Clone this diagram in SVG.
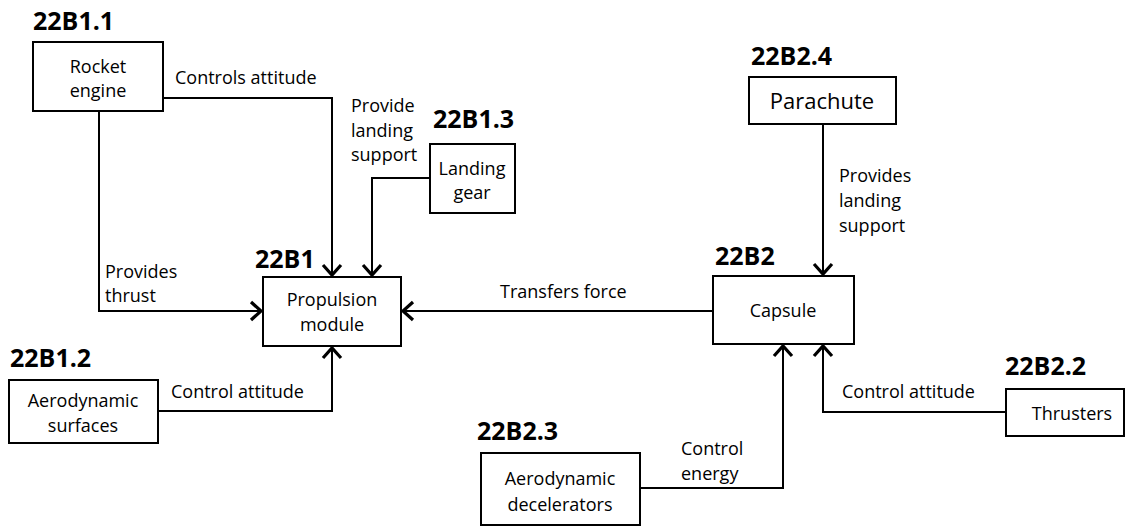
<svg xmlns="http://www.w3.org/2000/svg" width="1128" height="527" viewBox="0 0 1128 527">
<style>
.box{fill:#fff;stroke:#000;stroke-width:2}
.t{font-family:"Open Sans","Liberation Sans",sans-serif;font-size:18px;fill:#000}
.c{text-anchor:middle}
.id{font-family:"Open Sans","Liberation Sans",sans-serif;font-size:25px;font-weight:bold;fill:#000}
.ln{fill:none;stroke:#000;stroke-width:2}
</style>
<defs>
<marker id="arr" markerUnits="userSpaceOnUse" markerWidth="24" markerHeight="24" refX="2" refY="0" orient="auto" overflow="visible" viewBox="-12 -12 24 24">
<path d="M-10,-9 L0,0 L-10,9" fill="none" stroke="#000" stroke-width="3.2" stroke-linejoin="miter"/>
</marker>
</defs>
<rect width="1128" height="527" fill="#fff"/>
<g id="connectors">
<polyline class="ln" points="163,98 332,98 332,277" marker-end="url(#arr)"/>
<text class="t" x="175" y="84">Controls attitude</text>
<polyline class="ln" points="99,111 99,311 263,311" marker-end="url(#arr)"/>
<text class="t" x="105" y="278">Provides</text>
<text class="t" x="105" y="302">thrust</text>
<polyline class="ln" points="430,178 372,178 372,277" marker-end="url(#arr)"/>
<text class="t" x="351" y="112">Provide</text>
<text class="t" x="351" y="137">landing</text>
<text class="t" x="351" y="161">support</text>
<polyline class="ln" points="158,411 332,411 332,346" marker-end="url(#arr)"/>
<text class="t" x="171" y="398">Control attitude</text>
<polyline class="ln" points="713,311 401,311" marker-end="url(#arr)"/>
<text class="t" x="500" y="298">Transfers force</text>
<polyline class="ln" points="823,124 823,276" marker-end="url(#arr)"/>
<text class="t" x="839" y="182">Provides</text>
<text class="t" x="839" y="207">landing</text>
<text class="t" x="839" y="232">support</text>
<polyline class="ln" points="1006,412 823,412 823,344" marker-end="url(#arr)"/>
<text class="t" x="842" y="398">Control attitude</text>
<polyline class="ln" points="640,488 783,488 783,344" marker-end="url(#arr)"/>
<text class="t" x="681" y="455">Control</text>
<text class="t" x="681" y="480">energy</text>
</g>
<g id="rocket-engine">
<text class="id" x="33" y="30">22B1.1</text>
<rect class="box" x="33" y="42" width="130" height="69"/>
<text class="t c" x="98" y="73">Rocket</text>
<text class="t c" x="98" y="97">engine</text>
</g>
<g id="landing-gear">
<text class="id" x="433" y="128">22B1.3</text>
<rect class="box" x="430" y="144" width="85" height="69"/>
<text class="t c" x="472" y="175">Landing</text>
<text class="t c" x="472" y="199">gear</text>
</g>
<g id="propulsion-module">
<text class="id" x="255" y="268">22B1</text>
<rect class="box" x="263" y="277" width="138" height="69"/>
<text class="t c" x="332" y="306">Propulsion</text>
<text class="t c" x="332" y="331">module</text>
</g>
<g id="aerodynamic-surfaces">
<text class="id" x="10" y="367">22B1.2</text>
<rect class="box" x="9" y="380" width="149" height="63"/>
<text class="t c" x="83" y="407">Aerodynamic</text>
<text class="t c" x="83" y="432">surfaces</text>
</g>
<g id="parachute">
<text class="id" x="751" y="65">22B2.4</text>
<rect class="box" x="749" y="77" width="147" height="47"/>
<text class="t c" x="822" y="109" style="font-size:22px">Parachute</text>
</g>
<g id="capsule">
<text class="id" x="715" y="265">22B2</text>
<rect class="box" x="713" y="276" width="141" height="68"/>
<text class="t c" x="783" y="317">Capsule</text>
</g>
<g id="thrusters">
<text class="id" x="1005" y="375">22B2.2</text>
<rect class="box" x="1006" y="389" width="118" height="47"/>
<text class="t c" x="1072" y="420">Thrusters</text>
</g>
<g id="aerodynamic-decelerators">
<text class="id" x="477" y="440">22B2.3</text>
<rect class="box" x="481" y="453" width="159" height="72"/>
<text class="t c" x="560" y="485">Aerodynamic</text>
<text class="t c" x="560" y="511">decelerators</text>
</g>
</svg>
